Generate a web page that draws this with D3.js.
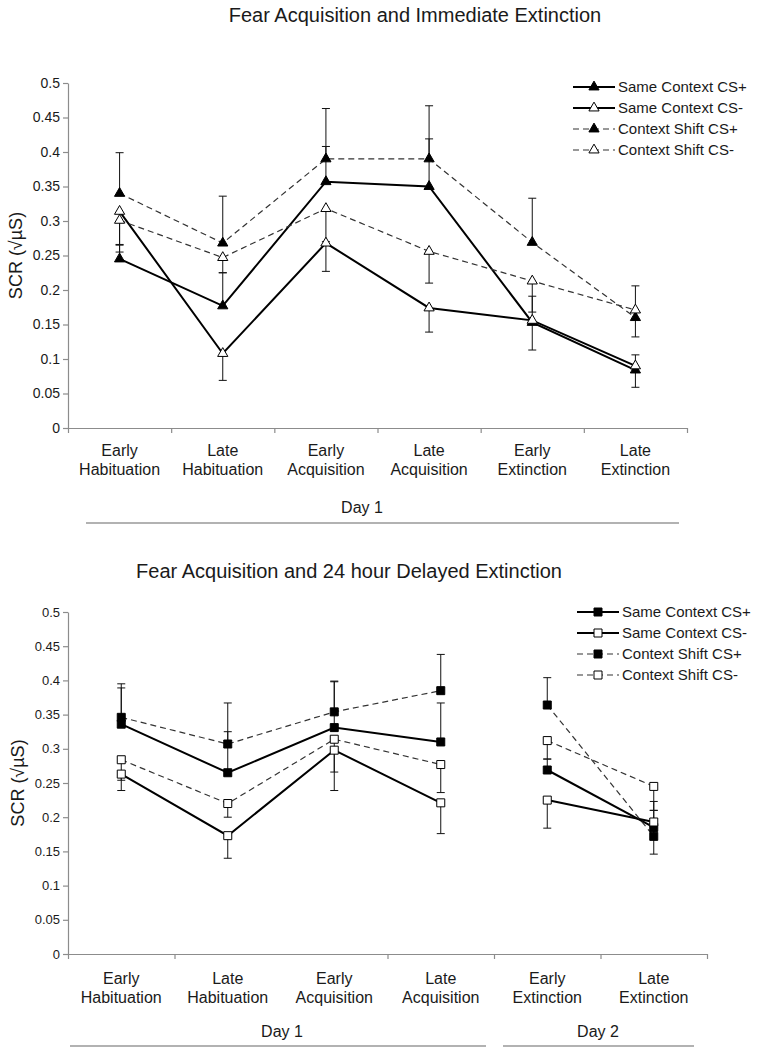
<!DOCTYPE html>
<html>
<head>
<meta charset="utf-8">
<script src="https://d3js.org/d3.v7.min.js"></script>
<style>
body { margin: 0; background: #fff; }
svg { font-family: "Liberation Sans", Arial, sans-serif; fill: #1a1a1a; }
.axis path, .axis line { stroke: #8c8c8c; stroke-width: 1.2; }
.axis text { fill: #1a1a1a; font-size: 14px; font-family: "Liberation Sans", Arial, sans-serif; }
.title { font-size: 20px; text-anchor: middle; }
.cat { font-size: 16px; text-anchor: middle; }
.legend text { font-size: 15px; }
.err { stroke: #111; stroke-width: 1; fill: none; }
.day-line { stroke: #999; stroke-width: 1.6; }
</style>
</head>
<body>
<script>

// categories along the x axis (two text lines each)
var phases = ["Early Habituation", "Late Habituation", "Early Acquisition",
              "Late Acquisition", "Early Extinction", "Late Extinction"];

var seriesNames = ["Same Context CS+", "Same Context CS-", "Context Shift CS+", "Context Shift CS-"];

var yTicks = [0, 0.05, 0.1, 0.15, 0.2, 0.25, 0.3, 0.35, 0.4, 0.45, 0.5];
var yTickLabels = ["0", "0.05", "0.1", "0.15", "0.2", "0.25", "0.3", "0.35", "0.4", "0.45", "0.5"];

// top panel: immediate extinction (means, SEM)
var immSameCSp  = [0.245, 0.177, 0.357, 0.350, 0.153, 0.084];
var immSameCSm  = [0.314, 0.108, 0.268, 0.174, 0.156, 0.090];
var immShiftCSp = [0.340, 0.268, 0.390, 0.390, 0.269, 0.160];
var immShiftCSm = [0.301, 0.247, 0.318, 0.256, 0.213, 0.171];
var immSameCSpSem  = [0.021, 0.048, 0.051, 0.069, 0.038, 0.022];
var immSameCSmSem  = [0.049, 0.039, 0.041, 0.035, 0.043, 0.031];
var immShiftCSpSem = [0.059, 0.068, 0.073, 0.077, 0.064, 0.046];
var immShiftCSmSem = [0.046, 0.022, 0.048, 0.046, 0.045, 0.039];

// bottom panel: 24 hour delayed extinction
var delSameCSp  = [0.336, 0.265, 0.331, 0.310, 0.269, 0.185];
var delSameCSm  = [0.263, 0.173, 0.298, 0.221, 0.225, 0.193];
var delShiftCSp = [0.346, 0.307, 0.354, 0.385, 0.364, 0.172];
var delShiftCSm = [0.284, 0.220, 0.314, 0.277, 0.312, 0.245];
var delSameCSpSem  = [0.053, 0.060, 0.067, 0.057, 0.016, 0.038];
var delSameCSmSem  = [0.024, 0.033, 0.059, 0.045, 0.041, 0.047];
var delShiftCSpSem = [0.049, 0.060, 0.045, 0.053, 0.040, 0.038];
var delShiftCSmSem = [0.030, 0.020, 0.048, 0.041, 0.027, 0.035];

// how each series is drawn: same context solid, shift dashed; CS+ filled
var seriesStyle = [
    {filled: true,  dashed: false, up: true},
    {filled: false, dashed: false, up: false},
    {filled: true,  dashed: true,  up: true},
    {filled: false, dashed: true,  up: false}
];

var svg = d3.select("body").append("svg")
    .attr("width", 762)
    .attr("height", 1050);

function drawPanel(cfg) {
    var g = svg.append("g");

    var x = d3.scaleBand().domain(phases).range([cfg.x0, cfg.x1]);
    var xEdge = d3.scaleLinear().domain([0, phases.length]).range([cfg.x0, cfg.x1]);
    var y = d3.scaleLinear().domain([0, 0.5]).range([cfg.yBottom, cfg.yTop]);

    g.append("text")
        .attr("class", "title")
        .attr("x", cfg.titleX)
        .attr("y", cfg.titleY)
        .text(cfg.title);

    // y axis
    g.append("g")
        .attr("class", "axis")
        .attr("transform", "translate(" + cfg.x0 + ",0)")
        .call(d3.axisLeft(y).tickValues(yTicks).tickSize(5).tickSizeOuter(0)
            .tickFormat(function(d, i) { return yTickLabels[i]; }))
        .selectAll("text").style("font-size", cfg.tickFont + "px");

    g.append("text")
        .attr("transform", "translate(" + cfg.yLabelX + "," + (cfg.yTop + cfg.yBottom) / 2 + ") rotate(-90)")
        .attr("text-anchor", "middle")
        .style("font-size", "18px")
        .text("SCR (\u221A\u00B5S)");

    // x axis with ticks between categories
    g.append("g")
        .attr("class", "axis")
        .attr("transform", "translate(0," + cfg.yBottom + ")")
        .call(d3.axisBottom(xEdge).tickValues(cfg.tickIdx).tickSize(5).tickSizeOuter(0).tickFormat(""));

    var cat = g.selectAll(".cat")
        .data(phases)
      .enter().append("text")
        .attr("class", "cat")
        .attr("x", function(d) { return x(d) + x.bandwidth() / 2; })
        .attr("y", cfg.catY);
    cat.append("tspan")
        .attr("x", function(d) { return x(d) + x.bandwidth() / 2; })
        .text(function(d) { return d.split(" ")[0]; });
    cat.append("tspan")
        .attr("x", function(d) { return x(d) + x.bandwidth() / 2; })
        .attr("dy", 19)
        .text(function(d) { return d.split(" ")[1]; });

    cfg.days.forEach(function(day) {
        g.append("text")
            .attr("class", "cat")
            .attr("x", day.textX)
            .attr("y", cfg.dayY)
            .text(day.label);
        g.append("line")
            .attr("class", "day-line")
            .attr("x1", day.x0).attr("x2", day.x1)
            .attr("y1", cfg.dayLineY).attr("y2", cfg.dayLineY);
    });

    var cx = function(i) { return x(phases[i]) + x.bandwidth() / 2; };

    var line = d3.line()
        .x(function(d) { return cx(d.i); })
        .y(function(d) { return y(d.v); });

    // lines
    cfg.series.forEach(function(s, k) {
        var st = seriesStyle[k];
        cfg.segments.forEach(function(seg) {
            g.append("path")
                .datum(seg.map(function(i) { return {i: i, v: s.values[i]}; }))
                .attr("d", line)
                .attr("fill", "none")
                .attr("stroke", st.dashed ? "#333" : "#000")
                .attr("stroke-width", st.dashed ? 1.2 : 2)
                .attr("stroke-dasharray", st.dashed ? "6,4" : null);
        });
    });

    // error bars (one-sided)
    cfg.series.forEach(function(s, k) {
        var st = seriesStyle[k];
        s.values.forEach(function(v, i) {
            var end = st.up ? v + s.sem[i] : v - s.sem[i];
            g.append("line").attr("class", "err")
                .attr("x1", cx(i)).attr("x2", cx(i))
                .attr("y1", y(v)).attr("y2", y(end));
            g.append("line").attr("class", "err")
                .attr("x1", cx(i) - 4).attr("x2", cx(i) + 4)
                .attr("y1", y(end)).attr("y2", y(end));
        });
    });

    // markers
    var sym = d3.symbol().type(cfg.symbol).size(cfg.symbolSize);
    cfg.series.forEach(function(s, k) {
        var st = seriesStyle[k];
        g.selectAll(null)
            .data(s.values)
          .enter().append("path")
            .attr("d", sym)
            .attr("transform", function(d, i) { return "translate(" + cx(i) + "," + y(d) + ")"; })
            .attr("fill", st.filled ? "#000" : "#fff")
            .attr("stroke", "#000")
            .attr("stroke-width", 1);
    });

    // legend
    var leg = g.append("g")
        .attr("class", "legend")
        .attr("transform", "translate(" + cfg.legendX + "," + cfg.legendY + ")");
    seriesNames.forEach(function(name, k) {
        var st = seriesStyle[k];
        var row = leg.append("g").attr("transform", "translate(0," + (k * 21) + ")");
        row.append("line")
            .attr("x1", 0).attr("x2", 42)
            .attr("stroke", st.dashed ? "#333" : "#000")
            .attr("stroke-width", st.dashed ? 1.2 : 2)
            .attr("stroke-dasharray", st.dashed ? "6,4" : null);
        row.append("path")
            .attr("d", sym)
            .attr("transform", "translate(21,0)")
            .attr("fill", st.filled ? "#000" : "#fff")
            .attr("stroke", "#000");
        row.append("text")
            .attr("x", 45)
            .attr("y", 5)
            .text(name);
    });
}

drawPanel({
    title: "Fear Acquisition and Immediate Extinction",
    titleX: 415, titleY: 22,
    x0: 68, x1: 687, yTop: 83, yBottom: 428,
    tickFont: 14, yLabelX: 22,
    tickIdx: [0, 1, 2, 3, 4, 5, 6],
    catY: 456,
    dayY: 513, dayLineY: 523,
    days: [{label: "Day 1", textX: 362, x0: 86, x1: 679}],
    segments: [[0, 1, 2, 3, 4, 5]],
    symbol: d3.symbolTriangle, symbolSize: 45,
    legendX: 573, legendY: 87,
    series: [
        {values: immSameCSp, sem: immSameCSpSem},
        {values: immSameCSm, sem: immSameCSmSem},
        {values: immShiftCSp, sem: immShiftCSpSem},
        {values: immShiftCSm, sem: immShiftCSmSem}
    ]
});

drawPanel({
    title: "Fear Acquisition and 24 hour Delayed Extinction",
    titleX: 349, titleY: 578,
    x0: 68, x1: 707, yTop: 612, yBottom: 954,
    tickFont: 13, yLabelX: 24,
    tickIdx: [0, 1, 3, 4, 5, 6],
    catY: 984,
    dayY: 1037, dayLineY: 1046,
    days: [{label: "Day 1", textX: 282, x0: 70, x1: 486},
           {label: "Day 2", textX: 598, x0: 503, x1: 694}],
    segments: [[0, 1, 2, 3], [4, 5]],
    symbol: d3.symbolSquare, symbolSize: 64,
    legendX: 577, legendY: 612,
    series: [
        {values: delSameCSp, sem: delSameCSpSem},
        {values: delSameCSm, sem: delSameCSmSem},
        {values: delShiftCSp, sem: delShiftCSpSem},
        {values: delShiftCSm, sem: delShiftCSmSem}
    ]
});

</script>
</body>
</html>
